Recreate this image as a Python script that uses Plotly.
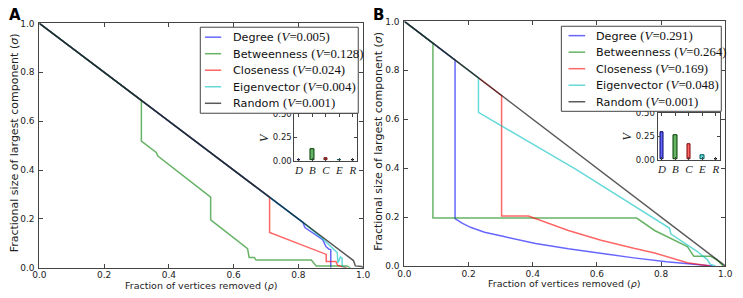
import plotly.graph_objects as go

W, H = 743, 298

# ---------------- data ----------------
series_names = ["Degree", "Betweenness", "Closeness", "Eigenvector", "Random"]
short_names = ["D", "B", "C", "E", "R"]

A_V = [0.005, 0.128, 0.024, 0.004, 0.001]
B_V = [0.291, 0.264, 0.169, 0.048, 0.001]

# Panel A curves
A_deg_x = [0.0, 0.814, 0.82, 0.875, 0.885, 0.895, 0.90, 0.90]
A_deg_y = [1.0, 0.186, 0.165, 0.115, 0.087, 0.076, 0.075, 0.0]
A_btw_x = [0.0, 0.315, 0.315, 0.361, 0.366, 0.529, 0.529, 0.643, 0.648, 0.664, 0.669, 0.84, 0.855, 0.95, 0.96]
A_btw_y = [1.0, 0.685, 0.518, 0.472, 0.457, 0.289, 0.196, 0.079, 0.042, 0.042, 0.032, 0.032, 0.008, 0.008, 0.0]
A_clo_x = [0.0, 0.711, 0.711, 0.886, 0.886, 0.916, 0.921, 0.94, 0.95]
A_clo_y = [1.0, 0.289, 0.145, 0.055, 0.026, 0.026, 0.01, 0.005, 0.0]
A_eig_x = [0.0, 0.82, 0.87, 0.90, 0.915, 0.92, 0.922, 0.93, 0.935, 0.935, 0.945]
A_eig_y = [1.0, 0.18, 0.125, 0.088, 0.072, 0.062, 0.02, 0.045, 0.04, 0.008, 0.0]
A_rnd_x = [0.0, 0.97, 0.976, 0.995, 1.0]
A_rnd_y = [1.0, 0.03, 0.008, 0.006, 0.0]

# Panel B curves
B_deg_x = [0.0, 0.158, 0.158, 0.18, 0.206, 0.25, 0.307, 0.409, 0.511, 0.613, 0.715, 0.817, 0.918, 0.96]
B_deg_y = [1.0, 0.842, 0.194, 0.175, 0.158, 0.138, 0.121, 0.092, 0.07, 0.05, 0.033, 0.017, 0.005, 0.0]
B_btw_x = [0.0, 0.089, 0.089, 0.724, 0.78, 0.831, 0.882, 0.902, 0.953, 0.973, 0.994]
B_btw_y = [1.0, 0.911, 0.196, 0.196, 0.145, 0.112, 0.079, 0.04, 0.04, 0.026, 0.0]
B_clo_x = [0.0, 0.303, 0.303, 0.387, 0.511, 0.613, 0.715, 0.78, 0.882, 0.953]
B_clo_y = [1.0, 0.697, 0.204, 0.204, 0.145, 0.105, 0.072, 0.053, 0.013, 0.0]
B_eig_x = [0.0, 0.231, 0.231, 0.535, 0.826, 0.831, 0.912, 0.93, 0.945, 0.953, 0.97]
B_eig_y = [1.0, 0.769, 0.628, 0.395, 0.155, 0.13, 0.06, 0.04, 0.025, 0.007, 0.0]
B_rnd_x = [0.0, 0.979, 1.0]
B_rnd_y = [1.0, 0.021, 0.0]

x_ticks = [0.0, 0.2, 0.4, 0.6, 0.8, 1.0]
inset_y_ticks = [0.0, 0.25, 0.5]

# ---------------- styles ----------------
line_colors = ["rgba(0,0,255,0.6)", "rgba(0,128,0,0.6)", "rgba(255,0,0,0.6)",
               "rgba(0,191,191,0.6)", "rgba(0,0,0,0.65)"]
edge_colors = ["rgb(0,0,110)", "rgb(0,60,0)", "rgb(120,0,0)", "rgb(0,90,90)", "rgb(0,0,0)"]
SANS = "DejaVu Sans"
SERIF = "Liberation Serif"
FRAME = "#444444"


def px(x):
    return x / W


def py(y):
    return 1 - y / H


fig = go.Figure()

A_curves = [(A_deg_x, A_deg_y), (A_btw_x, A_btw_y), (A_clo_x, A_clo_y), (A_eig_x, A_eig_y), (A_rnd_x, A_rnd_y)]
B_curves = [(B_deg_x, B_deg_y), (B_btw_x, B_btw_y), (B_clo_x, B_clo_y), (B_eig_x, B_eig_y), (B_rnd_x, B_rnd_y)]

for (xs, ys), name, col in zip(A_curves, series_names, line_colors):
    fig.add_trace(go.Scatter(x=xs, y=ys, mode="lines", name=name, showlegend=False,
                             line=dict(color=col, width=1.5), xaxis="x", yaxis="y"))
for (xs, ys), name, col in zip(B_curves, series_names, line_colors):
    fig.add_trace(go.Scatter(x=xs, y=ys, mode="lines", name=name, showlegend=False,
                             line=dict(color=col, width=1.5), xaxis="x2", yaxis="y2"))

# inset bars
fig.add_trace(go.Bar(x=list(range(5)), y=A_V, width=0.25, showlegend=False,
                     marker=dict(color=line_colors, line=dict(color=edge_colors, width=1)),
                     xaxis="x3", yaxis="y3"))
fig.add_trace(go.Bar(x=list(range(5)), y=B_V, width=0.25, showlegend=False,
                     marker=dict(color=line_colors, line=dict(color=edge_colors, width=1)),
                     xaxis="x4", yaxis="y4"))


def main_axis(domain, anchor, standoff=0):
    return dict(domain=domain, anchor=anchor, range=[0, 1], tickvals=x_ticks,
                ticktext=[f"{t:.1f}" for t in x_ticks], ticks="inside", ticklen=4,
                tickcolor=FRAME, showline=True, linecolor=FRAME, linewidth=1,
                mirror="ticks", showgrid=False, zeroline=False, ticklabelstandoff=standoff,
                tickfont=dict(family=SANS, size=9, color="#222"))


def inset_x(domain, anchor):
    return dict(domain=domain, anchor=anchor, range=[-0.33, 4.33], tickvals=list(range(5)),
                ticktext=[f"<i>{s}</i>" for s in short_names], ticks="inside", ticklen=3,
                tickcolor=FRAME, showline=True, linecolor=FRAME, linewidth=1,
                mirror="ticks", showgrid=False, zeroline=False, ticklabelstandoff=-1,
                tickfont=dict(family=SERIF, size=11, color="#222"))


def inset_y(domain, anchor):
    return dict(domain=domain, anchor=anchor, range=[0, 0.5], tickvals=inset_y_ticks,
                ticktext=[f"{t:.2f}" for t in inset_y_ticks], ticks="inside", ticklen=3,
                tickcolor=FRAME, showline=True, linecolor=FRAME, linewidth=1,
                mirror="ticks", showgrid=False, zeroline=False,
                tickfont=dict(family=SANS, size=8.5, color="#222"))


fig.update_layout(
    width=W, height=H, margin=dict(l=0, r=0, t=0, b=0),
    paper_bgcolor="white", plot_bgcolor="white", bargap=0,
    xaxis=main_axis([px(33), px(363)], "y", -2),
    yaxis=main_axis([py(272), py(19)], "x", 2),
    xaxis2=main_axis([px(405), px(732)], "y2", -1),
    yaxis2=main_axis([py(270), py(17)], "x2", 2),
    xaxis3=inset_x([px(293), px(357)], "y3"),
    yaxis3=inset_y([py(161), py(113)], "x3"),
    xaxis4=inset_x([px(663), px(727)], "y4"),
    yaxis4=inset_y([py(160), py(112)], "x4"),
)

shapes = []
annotations = []

# legends (drawn manually to match the compact matplotlib legend)
legend_specs = [
    dict(box=(197, 23, 358, 112), line_x=(201.7, 218.3), text_x=228.5, row0=33.3, V=A_V),
    dict(box=(565, 22, 728, 110), line_x=(572.3, 589.3), text_x=598.5, row0=31.7, V=B_V),
]
for spec in legend_specs:
    x0, y0, x1, y1 = spec["box"]
    shapes.append(dict(type="rect", xref="paper", yref="paper", x0=px(x0), x1=px(x1),
                       y0=py(y1), y1=py(y0), line=dict(color=FRAME, width=1),
                       fillcolor="white", layer="above"))
    for i, (name, col, v) in enumerate(zip(series_names, line_colors, spec["V"])):
        ry = spec["row0"] + i * 17.1
        shapes.append(dict(type="line", xref="paper", yref="paper",
                           x0=px(spec["line_x"][0]), x1=px(spec["line_x"][1]),
                           y0=py(ry), y1=py(ry), line=dict(color=col, width=1.5),
                           layer="above"))
        annotations.append(dict(
            xref="paper", yref="paper", x=px(spec["text_x"]), y=py(ry),
            xanchor="left", yanchor="middle", showarrow=False,
            text=f"{name} <span style=\"font-family:{SERIF};font-size:12.8px\">(<i>V</i>={v:.3f})</span>",
            font=dict(family=SANS, size=11.2, color="#111")))

# axis titles
for cx, cy in ((198, 290), (568, 288)):
    annotations.append(dict(xref="paper", yref="paper", x=px(cx), y=py(cy),
                            xanchor="center", yanchor="middle", showarrow=False,
                            text="Fraction of vertices removed (<i>ρ</i>)",
                            font=dict(family=SANS, size=9.5, color="#222")))
for cx, cy in ((7.3, 143), (378.7, 141)):
    annotations.append(dict(xref="paper", yref="paper", x=px(cx), y=py(cy),
                            xanchor="center", yanchor="middle", showarrow=False, textangle=-90,
                            text="Fractional size of largest component (<i>σ</i>)",
                            font=dict(family=SANS, size=11, color="#222")))
# inset V labels
for cx, cy in ((262.5, 137), (632, 136)):
    annotations.append(dict(xref="paper", yref="paper", x=px(cx), y=py(cy),
                            xanchor="center", yanchor="middle", showarrow=False, textangle=-90,
                            text="<i>V</i>", font=dict(family=SERIF, size=12, color="#222")))
# panel letters
for cx, letter in ((8, "A"), (379, "B")):
    annotations.append(dict(xref="paper", yref="paper", x=px(cx), y=py(10),
                            xanchor="center", yanchor="middle", showarrow=False,
                            text=f"<b>{letter}</b>", font=dict(family=SANS, size=15, color="black")))

fig.update_layout(shapes=shapes, annotations=annotations)
fig.write_html("out.html", post_script="document.body.style.margin='0';",
               config={"displayModeBar": False})
